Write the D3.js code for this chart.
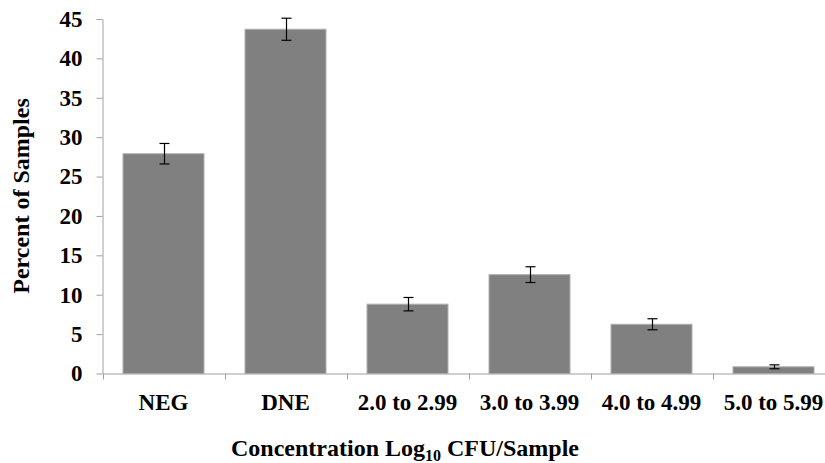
<!DOCTYPE html>
<html>
<head>
<meta charset="utf-8">
<script src="https://cdn.jsdelivr.net/npm/d3@7"></script>
<style>
  html, body { margin: 0; padding: 0; background: #fff; overflow: hidden; }
  svg { display: block; }
</style>
</head>
<body>
<svg id="chart" width="825" height="463"></svg>
<script>
const categories = ["NEG", "DNE", "2.0 to 2.99", "3.0 to 3.99", "4.0 to 4.99", "5.0 to 5.99"];
const values = [27.9, 43.7, 8.8, 12.55, 6.25, 0.85];
const errors = [1.3, 1.4, 0.85, 1.0, 0.7, 0.25];
const yTicks = [0, 5, 10, 15, 20, 25, 30, 35, 40, 45];
const yTitle = "Percent of Samples";

const FONT = '"Liberation Serif", "Times New Roman", serif';
const svg = d3.select("#chart");
const x0 = 102.5, step = 122;
const x = d3.scaleBand().domain(categories)
  .range([x0, x0 + step * categories.length])
  .paddingInner(0.336).paddingOuter(0.168);
const y = d3.scaleLinear().domain([0, 45]).range([373.5, 19]);
const axisColor = "#a0a0a0";

// y axis
const yAxis = svg.append("g").attr("transform", `translate(${x0},0)`)
  .call(d3.axisLeft(y).tickValues(yTicks).tickSize(6).tickPadding(14).tickSizeOuter(0));
yAxis.select(".domain").attr("stroke", axisColor);
yAxis.selectAll(".tick line").attr("stroke", axisColor);
yAxis.selectAll(".tick text").attr("font-size", 23).style("font-family", FONT).style("font-weight", "bold").attr("fill", "#000");

// bars
svg.append("g").selectAll("rect").data(categories).join("rect")
  .attr("x", d => x(d))
  .attr("width", x.bandwidth())
  .attr("y", (d, i) => y(values[i]))
  .attr("height", (d, i) => y(0) - y(values[i]))
  .attr("fill", "#808080")
  .attr("stroke", "#b0b0b0").attr("stroke-width", 1);

// error bars
const eb = svg.append("g").attr("stroke", "#000").attr("stroke-width", 1.2);
categories.forEach((c, i) => {
  const cx = Math.round(x(c) + x.bandwidth() / 2) + 0.5;
  const top = y(values[i] + errors[i]), bot = y(values[i] - errors[i]);
  eb.append("line").attr("x1", cx).attr("x2", cx).attr("y1", top).attr("y2", bot);
  eb.append("line").attr("x1", cx - 5).attr("x2", cx + 5).attr("y1", top).attr("y2", top);
  eb.append("line").attr("x1", cx - 5).attr("x2", cx + 5).attr("y1", bot).attr("y2", bot);
});

// x axis
const xAxis = svg.append("g").attr("transform", `translate(0,${y(0)})`)
  .call(d3.axisBottom(x).tickSize(0).tickPadding(20).tickSizeOuter(0));
xAxis.select(".domain").attr("stroke", axisColor);
xAxis.selectAll(".tick text").attr("font-size", 23).style("font-family", FONT).style("font-weight", "bold").attr("fill", "#000");
const bounds = d3.range(categories.length + 1).map(i => x0 + i * x.step());
xAxis.selectAll(".bound").data(bounds).join("line").attr("class", "bound")
  .attr("x1", d => Math.round(d) + 0.5).attr("x2", d => Math.round(d) + 0.5)
  .attr("y1", 0).attr("y2", 6).attr("stroke", axisColor);

// y title
svg.append("text")
  .attr("transform", "translate(29,196) rotate(-90)")
  .attr("text-anchor", "middle").attr("font-size", 24).style("font-family", FONT).style("font-weight", "bold")
  .text(yTitle);

// x title with subscript
const xt = svg.append("text").attr("x", 405).attr("y", 456)
  .attr("text-anchor", "middle").attr("font-size", 24).style("font-family", FONT).style("font-weight", "bold");
xt.append("tspan").text("Concentration Log");
xt.append("tspan").attr("font-size", 16).attr("dy", 5).text("10");
xt.append("tspan").attr("dy", -5).text(" CFU/Sample");
</script>
</body>
</html>
